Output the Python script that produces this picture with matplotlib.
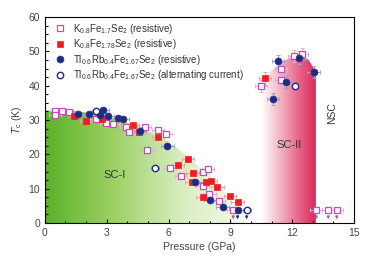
import numpy as np
import matplotlib
matplotlib.use("Agg")
import matplotlib.pyplot as plt
from matplotlib.patches import Polygon
from matplotlib.colors import LinearSegmentedColormap

plt.rcParams['font.family'] = ['Liberation Sans', 'DejaVu Sans']
plt.rcParams['mathtext.default'] = 'regular'

# K0.8Fe1.7Se2 (resistive) - open pink squares
k17_p = [0.49, 0.49, 0.81, 1.18, 2.5, 2.96, 3.3, 3.96, 4.09, 4.85, 4.97, 5.5, 5.86, 6.07, 6.6,
         7.65, 7.65, 7.92, 7.98, 8.46, 9.14, 10.49, 11.46, 11.46, 12.09, 12.46, 13.17, 13.75, 14.16]
k17_t = [32.7, 31.5, 32.7, 32.2, 30.4, 29.1, 28.9, 27.9, 26.4, 28.1, 21.4, 27.1, 25.8, 16.0, 13.6,
         10.7, 14.8, 15.7, 8.6, 6.4, 3.9, 40.0, 44.8, 41.7, 48.7, 49.2, 3.9, 3.9, 3.9]

# K0.8Fe1.78Se2 (resistive) - filled red squares
k178_p = [1.41, 1.99, 2.75, 4.29, 4.58, 5.5, 6.47, 6.96, 7.17, 7.12, 7.8, 8.06, 8.37, 8.98, 9.35, 7.65, 10.68]
k178_t = [31.2, 29.6, 30.4, 28.5, 26.4, 25.0, 17.0, 18.6, 14.7, 12.1, 12.1, 12.3, 10.4, 8.0, 6.0, 7.5, 42.1]

# Tl0.6Rb0.4Fe1.67Se2 (resistive) - filled navy circles
tlr_p = [1.62, 2.15, 2.8, 2.67, 3.07, 3.53, 3.8, 4.61, 5.95, 7.28, 8.0, 8.62, 9.35,
         11.08, 11.3, 11.7, 12.33, 13.04]
tlr_t = [31.9, 31.9, 32.9, 31.5, 31.2, 30.5, 30.3, 26.9, 22.3, 12.1, 6.6, 4.8, 3.9,
         36.2, 47.1, 41.1, 48.2, 43.9]

# Tl0.6Rb0.4Fe1.67Se2 (alternating current) - open navy circles
tla_p = [2.5, 5.36, 9.79, 12.14]
tla_t = [32.5, 16.0, 3.9, 40.0]

# points with upper-limit arrows (no SC above this pressure)
arrow_sq_p = [9.14, 13.17, 13.75, 14.16]
arrow_ci_p = [9.35, 9.79]

# phase boundaries
sc1_p = [0, 1.5, 3.0, 4.5, 6.0, 7.0, 8.0, 9.0, 9.5, 9.85]
sc1_t = [32.7, 32.7, 31.0, 28.3, 23.8, 19.0, 13.5, 7.0, 3.5, 0]
sc2_p = [10.5, 11.0, 11.5, 12.0, 12.5, 12.8, 13.05, 13.15]
sc2_t = [41.0, 44.5, 47.0, 48.3, 48.6, 47.5, 45.0, 43.5]

fig = plt.figure(figsize=(3.74, 2.64), dpi=100)
ax = fig.add_axes([0.120, 0.155, 0.8265, 0.7806])
ax.set_xlim(0, 15)
ax.set_ylim(0, 60)

# SC-I green gradient
green = LinearSegmentedColormap.from_list('g', ['#5cb22a', '#9bd063', '#d8edbf', '#f6fbef'])
grad = np.linspace(0, 1, 256).reshape(1, -1)
im1 = ax.imshow(grad, extent=[0, max(sc1_p), 0, max(sc1_t)], aspect='auto', cmap=green,
                origin='lower', zorder=1)
poly1 = Polygon(list(zip(sc1_p, sc1_t)) + [(0, 0)], closed=True, transform=ax.transData)
im1.set_clip_path(poly1)

# SC-II red gradient
red = LinearSegmentedColormap.from_list('r', ['#ffffff', '#f3b8c6', '#e86a8c', '#d92a5a'])
im2 = ax.imshow(grad, extent=[min(sc2_p), max(sc2_p), 0, max(sc2_t)], aspect='auto', cmap=red,
                origin='lower', zorder=1)
poly2 = Polygon([(sc2_p[0], 0)] + list(zip(sc2_p, sc2_t)) + [(sc2_p[-1], 0)], closed=True,
                transform=ax.transData)
im2.set_clip_path(poly2)

pink = '#c24fb5'
pink_e = '#e9a9dd'
navy = '#1f2a80'
navy_e = '#9aa3d6'

def yerr_for(t):
    return [1.8 if v > 35 else 0 for v in t]

ax.errorbar(k17_p, k17_t, xerr=0.3, yerr=yerr_for(k17_t), fmt='none', ecolor=pink_e,
            elinewidth=0.7, capsize=1.2, capthick=0.7, zorder=2)
ax.errorbar(k178_p, k178_t, xerr=0.3, yerr=yerr_for(k178_t), fmt='none', ecolor='#f0a0a8',
            elinewidth=0.7, capsize=1.2, capthick=0.7, zorder=2)
ax.errorbar(tlr_p, tlr_t, xerr=0.3, yerr=yerr_for(tlr_t), fmt='none', ecolor=navy_e,
            elinewidth=0.7, capsize=1.2, capthick=0.7, zorder=2)
ax.errorbar(tla_p, tla_t, xerr=0.2, fmt='none', ecolor=navy_e,
            elinewidth=0.7, capsize=1.2, capthick=0.7, zorder=2)

ax.plot(k17_p, k17_t, 's', ms=4.3, mfc='white', mec=pink, mew=0.9, ls='none', zorder=3,
        label=r'K$_{0.8}$Fe$_{1.7}$Se$_2$ (resistive)')
ax.plot(k178_p, k178_t, 's', ms=4.5, mfc='#ee1c25', mec='#ee1c25', mew=0.5, ls='none', zorder=3,
        label=r'K$_{0.8}$Fe$_{1.78}$Se$_2$ (resistive)')
ax.plot(tlr_p, tlr_t, 'o', ms=5.0, mfc=navy, mec='#2b3a92', mew=0.5, ls='none', zorder=4,
        label=r'Tl$_{0.6}$Rb$_{0.4}$Fe$_{1.67}$Se$_2$ (resistive)')
ax.plot(tla_p, tla_t, 'o', ms=4.6, mfc='white', mec=navy, mew=1.0, ls='none', zorder=4,
        label=r'Tl$_{0.6}$Rb$_{0.4}$Fe$_{1.67}$Se$_2$ (alternating current)')

for p in arrow_sq_p:
    ax.annotate('', xy=(p, 0.3), xytext=(p, 3.0),
                arrowprops=dict(arrowstyle='-|>', color=pink, lw=0.7, mutation_scale=4), zorder=3)
for p in arrow_ci_p:
    ax.annotate('', xy=(p, 0.3), xytext=(p, 3.0),
                arrowprops=dict(arrowstyle='-|>', color=navy, lw=0.7, mutation_scale=4), zorder=3)

ax.text(3.4, 14.0, 'SC-I', fontsize=8, color='#333333', ha='center', va='center', zorder=5)
ax.text(11.86, 22.6, 'SC-II', fontsize=8, color='#333333', ha='center', va='center', zorder=5)
ax.text(13.95, 32, 'NSC', fontsize=7.5, color='#333333', ha='center', va='center', rotation=90, zorder=5)

ax.set_xticks([0, 3, 6, 9, 12, 15])
ax.set_yticks([0, 10, 20, 30, 40, 50, 60])
ax.set_xticks(np.arange(0, 15.1, 1), minor=True)
ax.set_yticks(np.arange(0, 60.1, 2.5), minor=True)
ax.tick_params(which='both', direction='in', top=False, right=False, labelsize=7.5,
               labelcolor='#444444', width=0.8)
ax.tick_params(which='major', length=3)
ax.tick_params(which='minor', length=1.8)
for s in ax.spines.values():
    s.set_linewidth(0.8)
    s.set_zorder(6)

ax.set_xlabel('Pressure (GPa)', fontsize=7.5, color='#444444', labelpad=3)
ax.set_ylabel(r'$\mathit{T}_{c}$ (K)', fontsize=7.5, color='#444444', labelpad=3)

leg = ax.legend(loc='upper left', bbox_to_anchor=(0.02, 1.0), frameon=False, fontsize=7,
                handlelength=0.8, handletextpad=1.0, labelspacing=0.15, borderaxespad=0.3,
                borderpad=0.2)
for t in leg.get_texts():
    t.set_color('#333333')

fig.savefig('out.png', dpi=100)
